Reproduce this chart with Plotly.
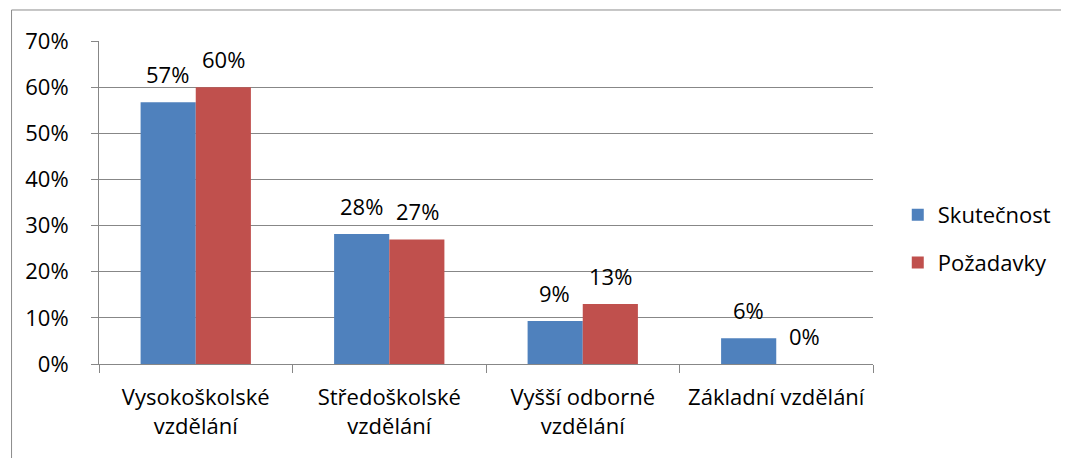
import plotly.graph_objects as go

# Data
categories = ["Vysokoškolské<br>vzdělání", "Středoškolské<br>vzdělání",
              "Vyšší odborné<br>vzdělání", "Základní vzdělání"]
skutecnost = [0.567, 0.282, 0.093, 0.056]
pozadavky = [0.60, 0.27, 0.13, 0.0]
tick_vals = [0, 0.1, 0.2, 0.3, 0.4, 0.5, 0.6, 0.7]

FONT = "Open Sans"
SIZE = 22
GRID = "#878787"
BAR_HALF = 27.8  # px, half of one bar width

series = [("Skutečnost", skutecnost, "#4F81BD", -BAR_HALF),
          ("Požadavky", pozadavky, "#C0504D", BAR_HALF)]

fig = go.Figure()
for name, vals, color, shift in series:
    fig.add_trace(go.Bar(
        x=categories, y=vals, name=name, legendgroup=name,
        marker=dict(color=color, line=dict(width=0)),
    ))
    # value labels above the bars
    for cat, v in zip(categories, vals):
        fig.add_annotation(
            x=cat, y=v, text=f"{round(v * 100)}%", showarrow=False,
            xshift=shift, yshift=11, yanchor="bottom",
            font=dict(family=FONT, size=SIZE, color="black"),
        )

fig.update_layout(
    width=1069, height=458,
    paper_bgcolor="white", plot_bgcolor="white",
    margin=dict(l=91, r=204, t=33, b=102),
    barmode="group", bargap=0.43, bargroupgap=0,
    font=dict(family=FONT, size=SIZE, color="black"),
    legend=dict(x=1.032, y=0.387, yanchor="middle", xanchor="left",
                font=dict(size=SIZE), itemwidth=30,
                traceorder="grouped", tracegroupgap=16),
    shapes=[dict(type="rect", xref="paper", yref="paper",
                 x0=-0.113, x1=1.5, y0=-0.5, y1=1.096,
                 line=dict(color="#8c8c8c", width=1), layer="below")],
)
fig.update_yaxes(
    range=[0, 0.7], tickvals=tick_vals, tickformat=".0%",
    showgrid=True, gridcolor=GRID, gridwidth=1,
    showline=True, linecolor=GRID, linewidth=1,
    ticks="outside", ticklen=7, tickcolor=GRID, ticklabelstandoff=18,
    zeroline=False, automargin=False,
)
fig.update_xaxes(
    showline=True, linecolor=GRID, linewidth=1,
    ticks="outside", ticklen=8, tickcolor=GRID, tickson="boundaries",
    ticklabelstandoff=14,
    showgrid=False, automargin=False,
)

fig.write_html("out.html")
